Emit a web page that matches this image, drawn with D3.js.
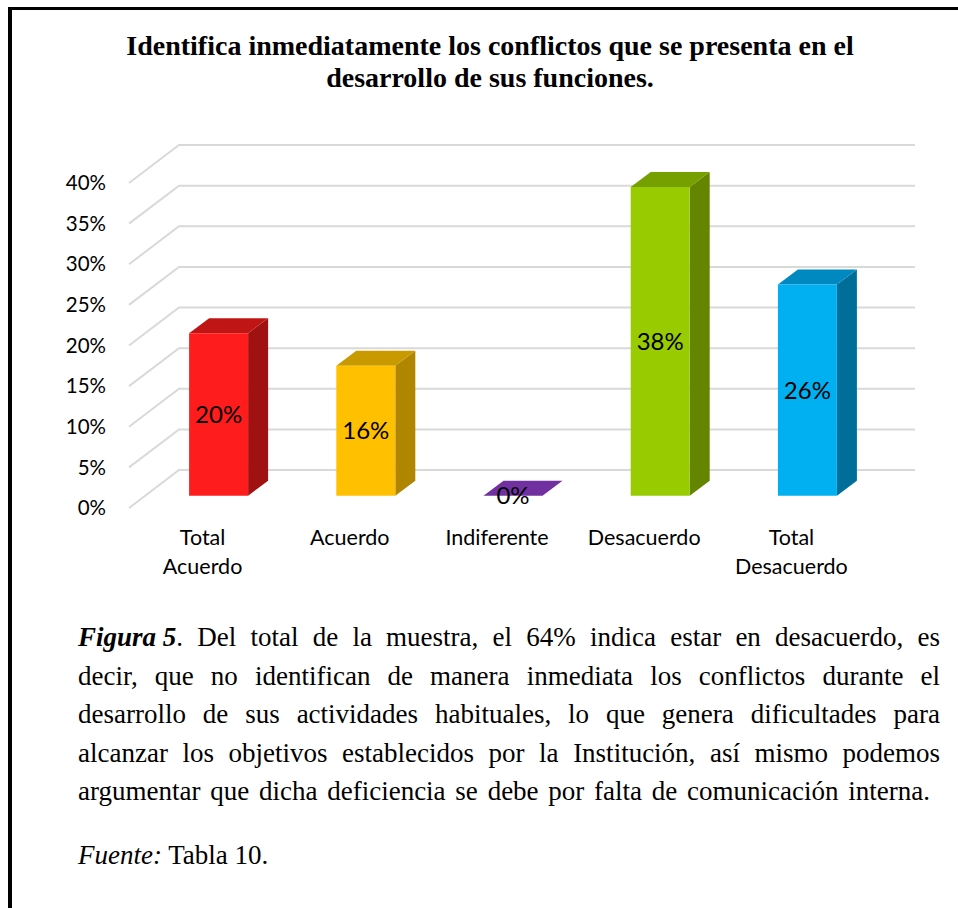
<!DOCTYPE html>
<html>
<head>
<meta charset="utf-8">
<script src="https://cdn.jsdelivr.net/npm/d3@7"></script>
<style>
  body { margin: 0; background: #fff; }
  svg { display: block; }
</style>
</head>
<body>
<div id="chart"></div>
<script>
// chart data
var categories = ["Total Acuerdo", "Acuerdo", "Indiferente", "Desacuerdo", "Total Desacuerdo"];
var values = [0.20, 0.16, 0.00, 0.38, 0.26];
var yTicks = [0, 0.05, 0.10, 0.15, 0.20, 0.25, 0.30, 0.35, 0.40];

var titleLines = ["Identifica inmediatamente los conflictos que se presenta en el",
                  "desarrollo de sus funciones."];
var captionLines = [
    "Del total de la muestra, el 64% indica estar en desacuerdo, es",
    "decir, que no identifican de manera inmediata los conflictos durante el",
    "desarrollo de sus actividades habituales, lo que genera dificultades para",
    "alcanzar los objetivos establecidos por la Institución, así mismo podemos",
    "argumentar que dicha deficiencia se debe por falta de comunicación interna."
];

function init(){
    var w = 958, h = 908;
    var depthX = 50, depthY = 38;   // 3d depth of the plot floor
    var barZ0 = 0.32, barZ1 = 0.72; // bar front / back depth

    // front, top, side colours
    var colors = [
        ["#ff1c1c", "#c01515", "#a01212"],
        ["#ffc000", "#c89a00", "#b08600"],
        ["#7030a0", "#7030a0", "#5a2680"],
        ["#99cc00", "#76a000", "#638500"],
        ["#00b0f0", "#0088c0", "#006e99"]
    ];

    var svg = d3.select("#chart")
                .append("svg")
                .attr("width", w)
                .attr("height", h);

    // frame lines
    svg.append("line").attr("x1", 10).attr("y1", 8.5).attr("x2", w).attr("y2", 8.5)
        .attr("stroke", "#000").attr("stroke-width", 3);
    svg.append("line").attr("x1", 10).attr("y1", 7).attr("x2", 10).attr("y2", h)
        .attr("stroke", "#000").attr("stroke-width", 4);

    // title
    svg.selectAll(".title")
        .data(titleLines)
        .enter()
        .append("text")
        .attr("class", "title")
        .attr("x", 490)
        .attr("y", function(d, i){ return 55 + i * 32; })
        .attr("text-anchor", "middle")
        .attr("font-family", "Liberation Serif")
        .attr("font-weight", "bold")
        .attr("font-size", "28px")
        .text(function(d){ return d; });

    var xScale = d3.scaleBand()
                    .domain(categories)
                    .range([129, 865]);
    var yScale = d3.scaleLinear()
                    .domain([0, 0.4])
                    .range([508, 183]);

    function px(x, z){ return x + depthX * z; }
    function py(y, z){ return y - depthY * z; }

    // gridlines: side diagonal + back wall
    var grid = svg.append("g");
    yTicks.forEach(function(t){
        var y0 = yScale(t);
        grid.append("polyline")
            .attr("points", [[129, y0], [px(129, 1), py(y0, 1)], [px(865, 1), py(y0, 1)]].join(" "))
            .attr("fill", "none")
            .attr("stroke", "#d9d9d9")
            .attr("stroke-width", 2);
    });

    // y labels
    svg.selectAll(".ylab")
        .data(yTicks)
        .enter()
        .append("text")
        .attr("x", 106)
        .attr("y", function(d){ return yScale(d); })
        .attr("dy", "0.35em")
        .attr("text-anchor", "end")
        .attr("font-family", "Lato")
        .attr("font-size", "20.5px")
        .text(d3.format(".0%"));

    // bars
    var barW = 59;
    var bars = svg.selectAll(".bar")
        .data(values)
        .enter()
        .append("g")
        .attr("class", "bar");

    bars.each(function(d, i){
        var g = d3.select(this);
        var cx = xScale(categories[i]) + xScale.bandwidth() / 2;
        var x0 = cx - barW / 2, x1 = cx + barW / 2;
        var yb = yScale(0), yt = yScale(d);
        var front = [[px(x0, barZ0), py(yt, barZ0)], [px(x1, barZ0), py(yt, barZ0)],
                     [px(x1, barZ0), py(yb, barZ0)], [px(x0, barZ0), py(yb, barZ0)]];
        var top = [[px(x0, barZ0), py(yt, barZ0)], [px(x0, barZ1), py(yt, barZ1)],
                   [px(x1, barZ1), py(yt, barZ1)], [px(x1, barZ0), py(yt, barZ0)]];
        var side = [[px(x1, barZ0), py(yt, barZ0)], [px(x1, barZ1), py(yt, barZ1)],
                    [px(x1, barZ1), py(yb, barZ1)], [px(x1, barZ0), py(yb, barZ0)]];
        g.append("polygon").attr("points", side.join(" ")).attr("fill", colors[i][2]);
        g.append("polygon").attr("points", top.join(" ")).attr("fill", colors[i][1]);
        g.append("polygon").attr("points", front.join(" ")).attr("fill", colors[i][0]);

        g.append("text")
            .attr("x", px(cx, barZ0))
            .attr("y", py((yt + yb) / 2, barZ0))
            .attr("dy", "0.35em")
            .attr("text-anchor", "middle")
            .attr("font-family", "Lato")
            .attr("font-size", "24px")
            .text(d3.format(".0%")(d));
    });

    // category labels
    svg.selectAll(".xlab")
        .data(categories)
        .enter()
        .append("text")
        .attr("class", "xlab")
        .attr("x", function(d){ return xScale(d) + xScale.bandwidth() / 2; })
        .attr("y", 545)
        .attr("text-anchor", "middle")
        .attr("font-family", "Lato")
        .attr("font-size", "21.5px")
        .each(function(d){
            var t = d3.select(this);
            var parts = d.split(" ");
            parts.forEach(function(p, j){
                t.append("tspan")
                    .attr("x", xScale(d) + xScale.bandwidth() / 2)
                    .attr("dy", j == 0 ? 0 : 29)
                    .text(p);
            });
        });

    // caption, justified by hand
    var left = 78, right = 940, lineH = 38.5, base = 646;
    var cap = svg.append("g")
        .attr("font-family", "Liberation Serif")
        .attr("font-size", "27px");

    captionLines.forEach(function(line, i){
        var words = line.split(" ");
        var items = [];
        if (i == 0) items.push({ t: "Figura 5", fig: true });
        words.forEach(function(wd){ items.push({ t: wd }); });

        var nodes = items.map(function(it){
            var t = cap.append("text").attr("y", base + i * lineH);
            if (it.fig) {
                t.append("tspan").attr("font-weight", "bold").attr("font-style", "italic").text("Figura 5");
                t.append("tspan").text(".");
            } else {
                t.text(it.t);
            }
            return t;
        });
        var widths = nodes.map(function(n){ return n.node().getComputedTextLength(); });
        var total = d3.sum(widths);
        var end = (i < captionLines.length - 1) ? right : 930;
        var gap = (end - left - total) / (nodes.length - 1);
        var x = left;
        nodes.forEach(function(n, j){
            n.attr("x", x);
            x += widths[j] + gap;
        });
    });

    var src = cap.append("text").attr("x", left).attr("y", 864);
    src.append("tspan").attr("font-style", "italic").text("Fuente:");
    src.append("tspan").text(" Tabla 10.");
}

window.onload = init;
</script>
</body>
</html>
